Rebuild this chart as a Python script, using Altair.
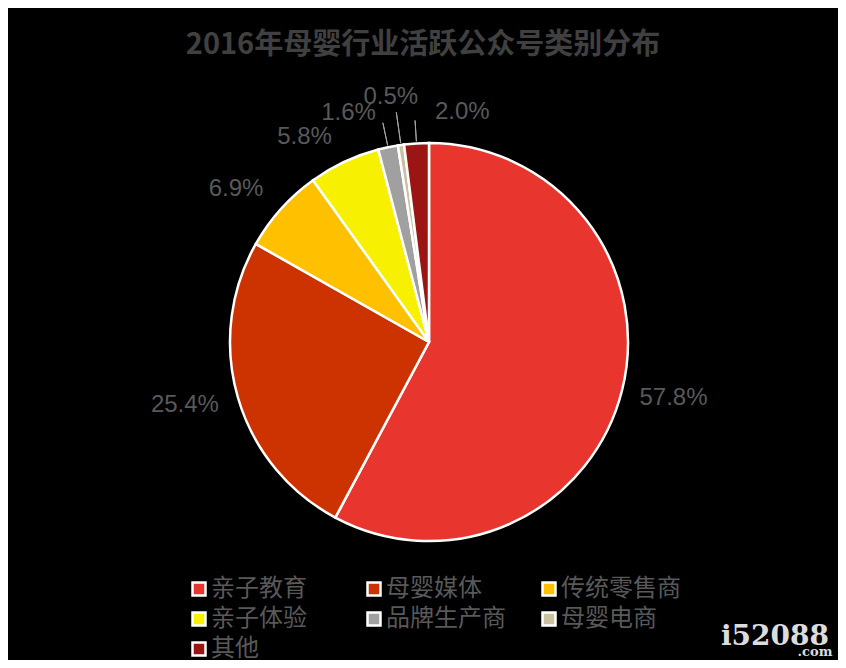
import altair as alt
import pandas as pd

categories = ["亲子教育", "母婴媒体", "传统零售商", "亲子体验", "品牌生产商", "母婴电商", "其他"]
values = [57.8, 25.4, 6.9, 5.8, 1.6, 0.5, 2.0]
colors = ["#E8362F", "#CC3300", "#FFC000", "#F7F000", "#A0A0A0", "#C9C1A0", "#9B1515"]

df = pd.DataFrame({"category": categories, "value": values, "idx": list(range(len(categories)))})

# label nudges (style only)
label_offsets = {
    "亲子教育": (2, -5),
    "母婴媒体": (-4, -7),
    "传统零售商": (-7, 14),
    "亲子体验": (-18, 21),
    "品牌生产商": (-29, 16),
    "母婴电商": (-3, 3),
    "其他": (49, 20),
}
leader_outer = {"品牌生产商": 224, "母婴电商": 232, "其他": 222}

base = (
    alt.Chart(df)
    .transform_window(cum="sum(value)", sort=[alt.SortField("idx")], frame=[None, 0])
    .transform_joinaggregate(total="sum(value)")
    .transform_calculate(
        start="(datum.cum - datum.value) / datum.total",
        end="datum.cum / datum.total",
        mid="(datum.cum - datum.value / 2) / datum.total",
        label="format(datum.value, '.1f') + '%'",
    )
)

theta_scale = alt.Scale(domain=[0, 1])

pie = base.mark_arc(radius=199, stroke="white", strokeWidth=2.5).encode(
    theta=alt.Theta("start:Q", scale=theta_scale),
    theta2="end:Q",
    color=alt.Color(
        "category:N",
        scale=alt.Scale(domain=categories, range=colors),
        sort=categories,
        legend=alt.Legend(
            title=None,
            orient="none",
            legendX=167,
            legendY=553,
            direction="horizontal",
            columns=3,
            gridAlign="all",
            columnPadding=31,
            rowPadding=6,
            symbolType="square",
            symbolSize=169,
            symbolStrokeColor="white",
            symbolStrokeWidth=2.5,
            labelFontSize=24,
            labelColor="#595959",
            labelFont="Noto Sans CJK SC",
            labelOffset=0,
            padding=0,
        ),
    ),
)

layers = [pie]

for c, r_out in leader_outer.items():
    layers.append(
        base.transform_filter(alt.datum.category == c)
        .mark_arc(radius=r_out, radius2=201, stroke="#A6A6A6", strokeWidth=1, fillOpacity=0)
        .encode(theta=alt.Theta("mid:Q", scale=theta_scale), theta2="mid:Q")
    )

for c, (dx, dy) in label_offsets.items():
    layers.append(
        base.transform_filter(alt.datum.category == c)
        .mark_text(
            radius=250, dx=dx, dy=dy, fontSize=24, font="Liberation Sans",
            color="#595959", align="center", baseline="middle",
        )
        .encode(theta=alt.Theta("mid:Q", scale=theta_scale), text="label:N")
    )

wm1 = alt.Chart(pd.DataFrame({"t": ["i52088"]})).mark_text(
    font="DejaVu Serif", fontWeight="bold", fontSize=28, color="#DCDCDC",
    align="center", baseline="middle",
).encode(text="t:N", x=alt.value(755), y=alt.value(613))
wm2 = alt.Chart(pd.DataFrame({"t": [".com"]})).mark_text(
    font="DejaVu Serif", fontWeight="bold", fontSize=13, color="#DCDCDC",
    align="center", baseline="middle",
).encode(text="t:N", x=alt.value(795), y=alt.value(628))
layers += [wm1, wm2]

chart = (
    alt.layer(*layers)
    .properties(
        width=818,
        height=636,
        autosize=alt.AutoSizeParams(type="none"),
        padding={"left": 12, "top": 16, "right": 0, "bottom": 0},
        title=alt.TitleParams(
            "2016年母婴行业活跃公众号类别分布",
            fontSize=29,
            font="Noto Sans CJK SC",
            fontWeight="bold",
            color="#404040",
            anchor="middle",
            offset=-36,
            dx=-6,
        ),
    )
    .configure(background="black")
    .configure_view(stroke=None)
)

chart.save("out.html", embed_options={"renderer": "svg", "actions": False})
